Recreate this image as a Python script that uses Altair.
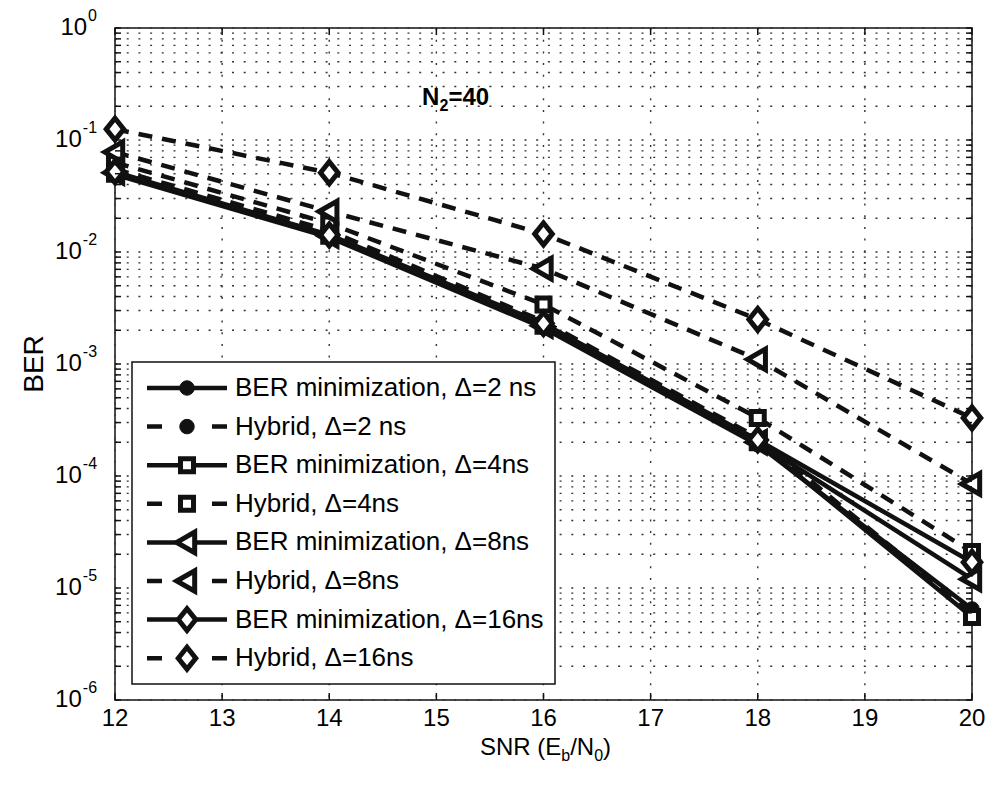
import altair as alt
import pandas as pd

# ---- data ----
snr = [12, 14, 16, 18, 20]

series_names = [
    "BER minimization, Δ=2 ns",
    "Hybrid, Δ=2 ns",
    "BER minimization, Δ=4ns",
    "Hybrid, Δ=4ns",
    "BER minimization, Δ=8ns",
    "Hybrid, Δ=8ns",
    "BER minimization, Δ=16ns",
    "Hybrid, Δ=16ns",
]

ber_min_2 = [0.049, 0.0135, 0.0021, 1.9e-4, 6.5e-6]
hybrid_2 = [0.055, 0.0155, 0.0024, 2.2e-4, 6.0e-6]
ber_min_4 = [0.050, 0.0140, 0.0022, 2.0e-4, 5.5e-6]
hybrid_4 = [0.063, 0.0180, 0.0034, 3.3e-4, 2.1e-5]
ber_min_8 = [0.051, 0.0140, 0.0022, 2.0e-4, 1.2e-5]
hybrid_8 = [0.078, 0.0230, 0.0071, 1.1e-3, 8.5e-5]
ber_min_16 = [0.052, 0.0142, 0.0023, 2.1e-4, 1.7e-5]
hybrid_16 = [0.125, 0.0510, 0.0145, 2.5e-3, 3.3e-4]

all_series = [ber_min_2, hybrid_2, ber_min_4, hybrid_4,
              ber_min_8, hybrid_8, ber_min_16, hybrid_16]

y_decades = [0, -1, -2, -3, -4, -5, -6]
x_ticks = list(range(12, 21))

# ---- styling ----
FONT = "Liberation Sans"
W, H = 857, 672
INK = "#111111"
GRID_DASH = [2, 9.7]

tri_left = "M-1,0L0.75,-1L0.75,1Z"
diamond = "M-0.8,0L0,-1L0.8,0L0,1Z"
shapes = ["circle", "circle", "square", "square",
          tri_left, tri_left, diamond, diamond]
sizes = [210, 210, 170, 170, 420, 420, 480, 480]
fills = [INK, INK, "white", "white", "white", "white", "white", "white"]
mstroke = [1, 1, 5, 5, 5, 5, 5, 5]
dashes = [None, [14, 10]] * 4

y_scale = alt.Scale(type="log", domain=[1e-6, 1], nice=False)
x_scale = alt.Scale(domain=[12, 20], nice=False)


def Y(f):
    return alt.Y(f, scale=y_scale, axis=None)


def X(f):
    return alt.X(f, scale=x_scale, axis=None)


grid_vals = sorted({k * 10.0 ** e for e in range(-6, 0) for k in range(1, 10)} | {1.0})
grid_df = pd.DataFrame({"v": grid_vals})
xt_df = pd.DataFrame({"s": x_ticks, "lab": [str(s) for s in x_ticks]})

# dotted grid
hgrid = alt.Chart(grid_df).mark_rule(color="#333", strokeWidth=1.4, strokeDash=GRID_DASH).encode(
    y=Y("v:Q"), x=alt.value(0), x2=alt.value(W))
vgrid = alt.Chart(xt_df).mark_rule(color="#333", strokeWidth=1.4, strokeDash=GRID_DASH).encode(
    x=X("s:Q"), y=alt.value(0), y2=alt.value(H))

# one line layer and one marker layer per series
series_layers = []
for i, (name, vals) in enumerate(zip(series_names, all_series)):
    d = pd.DataFrame({"snr": snr, "ber": vals, "series": name})
    line_kw = dict(strokeWidth=4.5, color=INK)
    if dashes[i]:
        line_kw["strokeDash"] = dashes[i]
    series_layers.append(alt.Chart(d).mark_line(**line_kw).encode(x=X("snr:Q"), y=Y("ber:Q")))
for i, (name, vals) in enumerate(zip(series_names, all_series)):
    d = pd.DataFrame({"snr": snr, "ber": vals, "series": name})
    series_layers.append(alt.Chart(d).mark_point(
        filled=True, shape=shapes[i], size=sizes[i], fill=fills[i], stroke=INK,
        strokeWidth=mstroke[i], opacity=1).encode(x=X("snr:Q"), y=Y("ber:Q")))

# inward tick marks on all four sides
ytick_l = alt.Chart(grid_df).mark_rule(color=INK, strokeWidth=1.5).encode(
    y=Y("v:Q"), x=alt.value(0), x2=alt.value(6))
ytick_r = alt.Chart(grid_df).mark_rule(color=INK, strokeWidth=1.5).encode(
    y=Y("v:Q"), x=alt.value(W - 6), x2=alt.value(W))
xtick_b = alt.Chart(xt_df).mark_rule(color=INK, strokeWidth=1.5).encode(
    x=X("s:Q"), y=alt.value(H - 7), y2=alt.value(H))
xtick_t = alt.Chart(xt_df).mark_rule(color=INK, strokeWidth=1.5).encode(
    x=X("s:Q"), y=alt.value(0), y2=alt.value(7))

# x tick labels
xlabels = alt.Chart(xt_df).mark_text(font=FONT, fontSize=24, align="center",
                                     baseline="middle", color="black").encode(
    x=X("s:Q"), y=alt.value(H + 19), text="lab:N")

# y tick labels: 10 with a superscript exponent
exp_text = ["0" if e == 0 else f"-{-e}" for e in y_decades]
exp_w = [8.9 if e == 0 else 14.2 for e in y_decades]
layers_ylab = []
for e, t, w in zip(y_decades, exp_text, exp_w):
    d = pd.DataFrame({"v": [10.0 ** e], "base": ["10"], "exp": [t]})
    right = -19 - w
    layers_ylab.append(alt.Chart(d).mark_text(font=FONT, fontSize=24, align="right",
                                              baseline="middle", color="black").encode(
        y=Y("v:Q"), x=alt.value(right), text="base:N"))
    layers_ylab.append(alt.Chart(d).mark_text(font=FONT, fontSize=16, align="left",
                                              baseline="middle", dy=-12, color="black").encode(
        y=Y("v:Q"), x=alt.value(right + 1), text="exp:N"))


def label(txt, x, y, size=24, weight="normal", align="left", dy=0, angle=0):
    d = pd.DataFrame({"t": [txt]})
    kw = dict(font=FONT, fontSize=size, fontWeight=weight, align=align,
              baseline="middle", dy=dy, color="black")
    if angle:
        kw["angle"] = angle
    return alt.Chart(d).mark_text(**kw).encode(
        x=alt.value(x), y=alt.value(y), text="t:N")


# axis titles and annotation
TY = H + 48
titles = [
    label("BER", -80, 336, size=28, align="center", angle=270),
    label("SNR (E", 365, TY),
    label("b", 446.3, TY, size=16, dy=8),
    label("/N", 455.2, TY),
    label("0", 479.2, TY, size=16, dy=8),
    label(")", 488.1, TY),
    label("N", 307, 70, weight="bold"),
    label("2", 324.5, 70, size=16, weight="bold", dy=8),
    label("=40", 333.4, 70, weight="bold"),
]

# legend
box_df = pd.DataFrame({"k": [0]})
legend_box = alt.Chart(box_df).mark_rect(fill="white", stroke=INK, strokeWidth=1.5).encode(
    x=alt.value(17), x2=alt.value(440), y=alt.value(334), y2=alt.value(656))

legend_layers = [legend_box]
for i, name in enumerate(series_names):
    ry = 360 + 38.6 * i
    d = pd.DataFrame({"t": [name]})
    rule_kw = dict(color=INK, strokeWidth=4.5)
    if dashes[i]:
        rule_kw["strokeDash"] = [15, 50]
    legend_layers.append(alt.Chart(d).mark_rule(**rule_kw).encode(
        x=alt.value(32), x2=alt.value(112), y=alt.value(ry)))
    legend_layers.append(alt.Chart(d).mark_point(
        filled=True, shape=shapes[i], size=sizes[i], fill=fills[i], stroke=INK,
        strokeWidth=mstroke[i], opacity=1).encode(x=alt.value(72), y=alt.value(ry)))
    legend_layers.append(alt.Chart(d).mark_text(
        font=FONT, fontSize=26, align="left", baseline="middle", color="black").encode(
        x=alt.value(120), y=alt.value(ry), text="t:N"))

chart = alt.layer(
    hgrid, vgrid, *series_layers, ytick_l, ytick_r, xtick_b, xtick_t, xlabels,
    *layers_ylab, *titles, *legend_layers,
).properties(
    width=W, height=H,
    autosize=alt.AutoSizeParams(type="none"),
    padding={"left": 115, "top": 28, "right": 17, "bottom": 86},
    background="white",
).configure_view(stroke=INK, strokeWidth=1.5)

chart.save("out.html", embed_options={"renderer": "svg", "actions": False})
